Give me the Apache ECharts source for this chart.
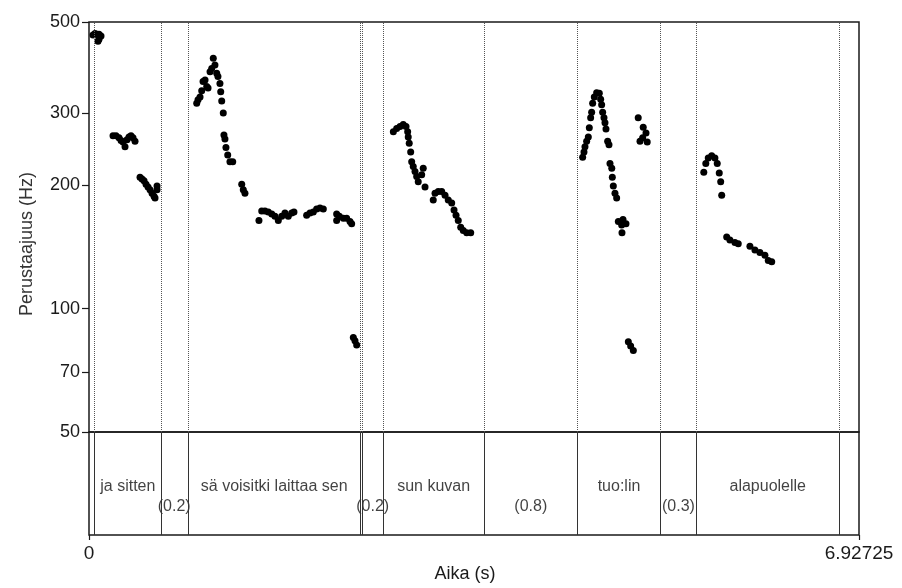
<!DOCTYPE html>
<html>
<head>
<meta charset="utf-8">
<title>Perustaajuus</title>
<script src="https://cdn.jsdelivr.net/npm/echarts@6/dist/echarts.min.js"></script>
<style>
html, body { margin: 0; padding: 0; background: #fff; }
#chart { width: 902px; height: 588px; }
</style>
</head>
<body>
<div id="chart"></div>
<script>
// pitch track: time (s) and F0 (Hz) per stretch of speech
var jaSittenT  = [0.036, 0.054, 0.072, 0.090, 0.108, 0.090, 0.081,
                  0.216, 0.243, 0.270, 0.288, 0.306, 0.324, 0.342, 0.360, 0.378, 0.396, 0.414,
                  0.459, 0.477, 0.495, 0.513, 0.531, 0.549, 0.567, 0.585, 0.594, 0.612, 0.612];
var jaSittenHz = [465, 469, 467, 467, 462, 454, 449,
                  264, 264, 261, 257, 255, 248, 258, 262, 264, 261, 256,
                  209, 207, 205, 201, 198, 195, 191, 188, 186, 199, 195];

var saVoisitkiT  = [0.969, 0.981, 0.999, 1.014, 1.026, 1.044, 1.059, 1.071, 1.089, 1.104, 1.118, 1.133,
                    1.149, 1.160, 1.178, 1.185, 1.194, 1.208, 1.214, 1.223, 1.232, 1.248, 1.268, 1.293,
                    1.374, 1.388, 1.403,
                    1.529, 1.554, 1.583, 1.613, 1.644, 1.673, 1.703, 1.734, 1.763, 1.793, 1.824, 1.844,
                    1.958, 1.988, 2.018, 2.048, 2.078, 2.108,
                    2.228, 2.252, 2.228, 2.288, 2.318, 2.348, 2.363,
                    2.378, 2.393, 2.408];
var saVoisitkiHz = [317, 323, 328, 340, 358, 361, 348, 345, 378, 385, 408, 393,
                    375, 368, 354, 338, 321, 300, 265, 259, 247, 237, 228, 228,
                    201, 195, 191,
                    164, 173, 173, 172, 170, 168, 164, 168, 171, 168, 171, 172,
                    169, 171, 172, 175, 176, 175,
                    170, 168, 164, 166, 166, 163, 161,
                    85, 83.5, 81.5];

var sunKuvanT  = [2.738, 2.768, 2.798, 2.827, 2.852, 2.867, 2.872, 2.881, 2.894, 2.903, 2.917, 2.933,
                  2.948, 2.962, 2.993, 3.007, 3.023, 3.097, 3.113, 3.142, 3.173, 3.203, 3.232, 3.263,
                  3.284, 3.302, 3.322, 3.344, 3.367, 3.398, 3.434];
var sunKuvanHz = [270, 275, 278, 281, 278, 270, 262, 253, 241, 228, 222, 216,
                  210, 204, 212, 220, 198, 184, 191, 193, 193, 189, 184, 181,
                  174, 169, 164, 158, 155, 153, 153];

var tuolinT  = [4.441, 4.453, 4.462, 4.477, 4.492, 4.501, 4.513, 4.522, 4.531, 4.546, 4.567, 4.591,
                4.603, 4.612, 4.621, 4.633, 4.642, 4.651, 4.666, 4.678, 4.687, 4.703, 4.708, 4.717,
                4.732, 4.747, 4.762, 4.792, 4.831, 4.795, 4.804,
                4.852, 4.873, 4.897,
                4.941, 4.986, 5.011, 4.957, 4.981, 5.022];
var tuolinHz = [234, 241, 248, 256, 262, 276, 292, 301, 317, 328, 336, 335,
                324, 314, 301, 292, 284, 274, 256, 251, 226, 220, 209, 199,
                191, 186, 163, 160, 161, 153, 165,
                83, 81, 79,
                292, 277, 268, 256, 261, 255];

var alapuolelleT  = [5.531, 5.549, 5.571, 5.602, 5.631, 5.652, 5.670, 5.683, 5.692,
                     5.737, 5.766, 5.811, 5.841, 5.946, 5.991, 6.036, 6.081, 6.111, 6.142];
var alapuolelleHz = [215, 226, 233, 236, 233, 226, 214, 204, 189,
                     149.5, 147, 145, 144, 142, 139, 137, 135, 131, 130];

// text tier
var words      = ['ja sitten', 'sä voisitki laittaa sen', 'sun kuvan', 'tuo:lin', 'alapuolelle'];
var wordStart  = [0.054, 0.888, 2.645, 4.393, 5.463];
var wordEnd    = [0.645, 2.444, 3.556, 5.143, 6.750];
var pauses     = ['(0.2)', '(0.2)', '(0.8)', '(0.3)'];
var pauseStart = [0.645, 2.460, 3.556, 5.143];
var pauseEnd   = [0.888, 2.645, 4.393, 5.463];
var boundaries = [0.054, 0.645, 0.888, 2.444, 2.460, 2.645, 3.556, 4.393, 5.143, 5.463, 6.750];

var yTicks = [50, 70, 100, 200, 300, 500];
var xTicks = [0, 6.92725];
var xTickText = ['0', '6.92725'];
var xMax = 6.92725;

var FONT = '"Liberation Sans", Arial, sans-serif';
var WORD_ROW = 0.466, PAUSE_ROW = 0.272;

function pairs(ts, hz) {
    var out = [];
    for (var i = 0; i < ts.length; i++) out.push([ts[i], hz[i]]);
    return out;
}
var pitch = [].concat(
    pairs(jaSittenT, jaSittenHz),
    pairs(saVoisitkiT, saVoisitkiHz),
    pairs(sunKuvanT, sunKuvanHz),
    pairs(tuolinT, tuolinHz),
    pairs(alapuolelleT, alapuolelleHz)
);

var tierData = [];
words.forEach(function (w, i) {
    tierData.push({ name: w, value: [(wordStart[i] + wordEnd[i]) / 2, WORD_ROW] });
});
pauses.forEach(function (p, i) {
    tierData.push({ name: p, value: [(pauseStart[i] + pauseEnd[i]) / 2, PAUSE_ROW] });
});

var myChart = echarts.init(document.getElementById('chart'));
var option = {
    animation: false,
    backgroundColor: '#fff',
    grid: [
        { left: 89, right: 43, top: 22, height: 410, outerBoundsMode: 'none', containLabel: false,
          show: true, borderColor: '#1a1a1a', borderWidth: 1.5 },
        { left: 89, right: 43, top: 432, height: 103, outerBoundsMode: 'none', containLabel: false,
          show: true, borderColor: '#1a1a1a', borderWidth: 1.5 }
    ],
    xAxis: [
        { gridIndex: 0, type: 'value', min: 0, max: xMax, show: false },
        {
            gridIndex: 1, type: 'value', min: 0, max: xMax, position: 'bottom',
            axisLine: { show: false },
            splitLine: { show: false },
            axisTick: { show: true, customValues: xTicks, length: 5, lineStyle: { color: '#1a1a1a', width: 1.2 } },
            axisLabel: {
                customValues: xTicks, margin: 9, fontSize: 19, fontFamily: FONT, color: '#1a1a1a',
                formatter: function (v) {
                    var i = xTicks.indexOf(v);
                    return i >= 0 ? xTickText[i] : String(v);
                }
            },
            name: 'Aika (s)', nameLocation: 'middle', nameGap: 30,
            nameTextStyle: { fontSize: 18, fontFamily: FONT, color: '#1a1a1a', padding: [0, 18, 0, 0] }
        }
    ],
    yAxis: [
        { gridIndex: 0, type: 'log', logBase: 10, min: 50, max: 500, show: false, position: 'left' },
        {
            gridIndex: 0, type: 'value', position: 'left', offset: 0,
            min: Math.log10(50), max: Math.log10(500),
            axisLine: { show: false },
            splitLine: { show: false },
            axisTick: { show: true, customValues: yTicks.map(Math.log10), length: 7, lineStyle: { color: '#1a1a1a', width: 1.2 } },
            axisLabel: {
                customValues: yTicks.map(Math.log10), margin: 9, fontSize: 18, fontFamily: FONT, color: '#1a1a1a',
                formatter: function (v) { return String(Math.round(Math.pow(10, v))); }
            },
            name: 'Perustaajuus (Hz)', nameLocation: 'middle', nameGap: 53,
            nameTextStyle: { fontSize: 18, fontFamily: FONT, color: '#333', padding: [0, 34, 0, 0] }
        },
        { gridIndex: 1, type: 'value', min: 0, max: 1, show: false }
    ],
    series: [
        {
            type: 'scatter', xAxisIndex: 0, yAxisIndex: 0,
            data: pitch, symbolSize: 7, silent: true,
            itemStyle: { color: '#000', opacity: 1 },
            markLine: {
                silent: true, symbol: ['none', 'none'], label: { show: false },
                lineStyle: { type: 'dotted', color: '#555', width: 1 },
                data: boundaries.map(function (b) { return { xAxis: b }; })
            }
        },
        {
            type: 'scatter', xAxisIndex: 1, yAxisIndex: 2,
            data: tierData, symbolSize: 0, silent: true,
            label: { show: true, position: 'inside', formatter: '{b}', fontSize: 16, fontFamily: FONT, color: '#111' },
            markLine: {
                silent: true, symbol: ['none', 'none'], label: { show: false },
                lineStyle: { type: 'solid', color: '#333', width: 1 },
                data: boundaries.map(function (b) { return { xAxis: b }; })
            }
        }
    ]
};
myChart.setOption(option);
</script>
</body>
</html>
